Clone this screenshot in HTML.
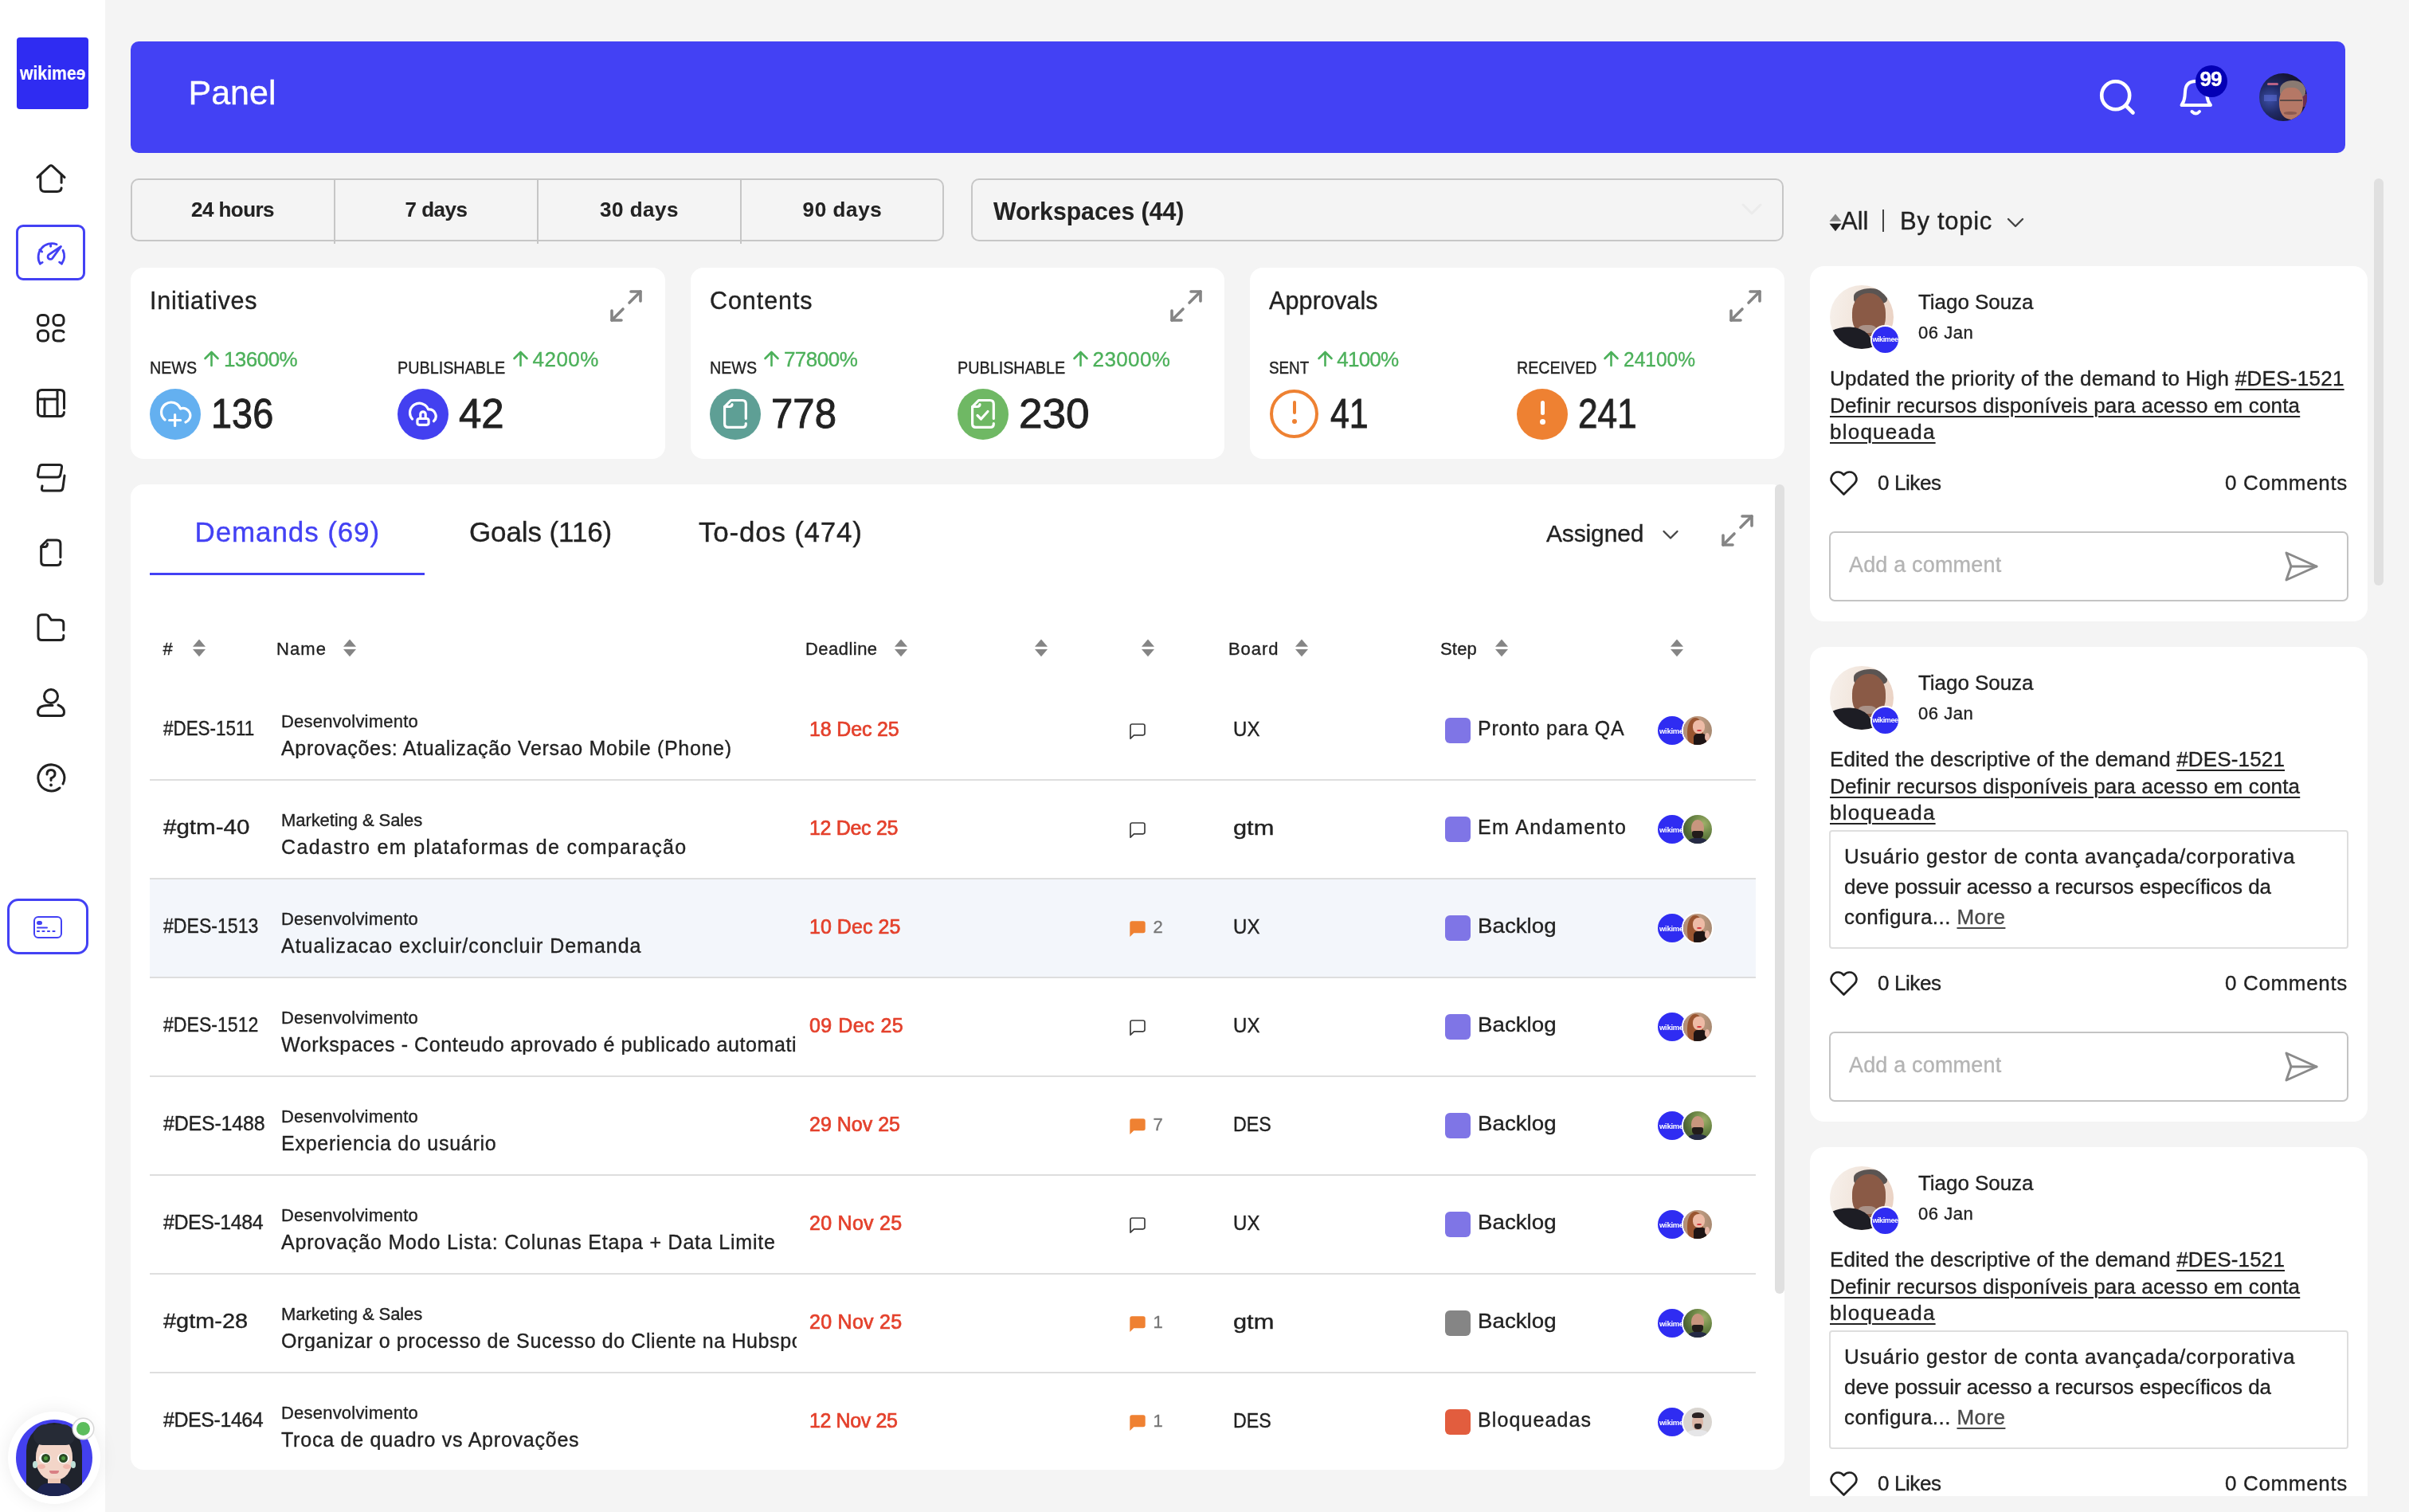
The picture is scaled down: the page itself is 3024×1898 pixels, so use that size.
<!DOCTYPE html>
<html><head><meta charset="utf-8"><title>Panel</title>
<style>
*{box-sizing:border-box;margin:0;padding:0}
html,body{width:3024px;height:1898px;overflow:hidden}
body{position:relative;background:#f4f4f4;font-family:"Liberation Sans",Arial,sans-serif;color:#222;-webkit-text-stroke:0.35px currentColor;will-change:transform}
div,span,svg{position:absolute}
div{white-space:nowrap}
.rel{position:relative}
.card{background:#fff;border-radius:16px}
.w{color:#fff}
.ul{text-decoration:underline;text-decoration-thickness:2px;text-underline-offset:4px}
svg{overflow:visible}
.av{border-radius:50%;overflow:hidden}
.wk{background:#2f2cf2;border-radius:50%;color:#fff;font-weight:700;text-align:center;overflow:hidden;-webkit-text-stroke:0}
@media (max-width:1600px){html{zoom:0.5}}
</style></head><body>

<div style="left:0;top:0;width:132px;height:1898px;background:#fff"></div>
<div style="left:21px;top:47px;width:90px;height:90px;background:#2f2cf2;border-radius:4px"></div>
<div class="w" style="left:24.5px;top:80px;font-size:24px;line-height:24px;font-weight:700;-webkit-text-stroke:0.2px;transform:scaleX(0.883);transform-origin:0 0">wikime<span style="position:relative;display:inline-block;transform:scaleX(-1)">e</span></div>
<svg style="left:46px;top:206px" width="36" height="36" viewBox="0 0 36 36" fill="none" stroke="#222" stroke-width="3" stroke-linecap="round" stroke-linejoin="round"><path d="M1,16.7 L16.3,2.4 Q18,1 19.7,2.4 L35,16.7"/><path d="M4.8,13.5 V29 Q4.8,34.4 10.2,34.4 H25.7 Q30.6,34.4 31.1,30"/><path d="M31.1,23.3 V13.5"/></svg>
<div style="left:20px;top:282px;width:87px;height:70px;border:3px solid #4341f4;border-radius:9px"></div>
<svg style="left:44px;top:300px" width="40" height="36" viewBox="0 0 40 36" fill="none" stroke="#4341f4" stroke-width="2.8" stroke-linecap="round" stroke-linejoin="round"><path d="M6.3,31.1 A17,17 0 0 1 27.1,6.8"/><path d="M6.3,31.1 L9.2,29.4"/><path d="M35,14.2 A17,17 0 0 1 33.5,31"/><path d="M33.5,31 L30.6,29.1"/><path d="M19.6,6.3 V9.3"/><path d="M5.8,13.7 L8.7,16"/><path d="M32.5,9.5 L21.7,24.3 A3.2,3.2 0 1 1 17.3,19.7 Z"/></svg>
<svg style="left:46px;top:394px" width="36" height="36" viewBox="0 0 36 36" fill="none" stroke="#222" stroke-width="3" stroke-linecap="round" stroke-linejoin="round"><rect x="1.5" y="1.5" width="13" height="13" rx="5"/><rect x="21" y="1.5" width="13" height="13" rx="5"/><rect x="1.5" y="21" width="13" height="13" rx="5"/><path d="M34,23 Q33,21 29,21 H26 Q21,21 21,26 V29 Q21,34 26,34 H29 Q33,34 34,32"/></svg>
<svg style="left:46px;top:488px" width="36" height="36" viewBox="0 0 36 36" fill="none" stroke="#222" stroke-width="3" stroke-linecap="round" stroke-linejoin="round"><path d="M34.5,24.5 V6.5 Q34.5,1.5 29.5,1.5 H6.5 Q1.5,1.5 1.5,6.5 V29.5 Q1.5,34.5 6.5,34.5 H29.5 Q34,34.5 34.5,29.5"/><path d="M1.5,13 H26"/><path d="M10,13 V34.5"/><path d="M26,1.5 V34.5"/></svg>
<svg style="left:46px;top:582px" width="36" height="36" viewBox="0 0 36 36" fill="none" stroke="#222" stroke-width="3" stroke-linecap="round" stroke-linejoin="round"><path d="M7,1.5 H29 Q32,1.5 31.5,5 L30,13 Q29.5,17 26,17 H4 Q1,17 1.5,14 L3,5 Q3.5,1.5 7,1.5 Z"/><path d="M35,15 L33,30 Q32.5,34 29,34 H9 Q6,34 6.5,31 L7,28"/></svg>
<svg style="left:48px;top:676px" width="32" height="36" viewBox="0 0 32 36" fill="none" stroke="#222" stroke-width="3" stroke-linecap="round" stroke-linejoin="round"><path d="M27.9,23.4 V6.5 Q27.9,2 23.4,2 H11.5 L3.7,9.8 V29 Q3.7,33.5 8.2,33.5 H23.4 Q27.9,33.5 27.9,29.5 V28.9"/><path d="M3.7,10.5 H8 Q11.5,10.5 11.5,6.5"/></svg>
<svg style="left:46px;top:770px" width="36" height="36" viewBox="0 0 36 36" fill="none" stroke="#222" stroke-width="3" stroke-linecap="round" stroke-linejoin="round"><path d="M33.8,21 V12.8 Q33.8,8.3 29.3,8.3 H18.5 L15,3.5 Q14,1.7 12,1.7 H6.5 Q2,1.7 2,6.2 V29 Q2,33.5 6.5,33.5 H29.3 Q33.8,33.5 33.8,29.5 V27.5"/></svg>
<svg style="left:46px;top:864px" width="36" height="36" viewBox="0 0 36 36" fill="none" stroke="#222" stroke-width="3" stroke-linecap="round" stroke-linejoin="round"><circle cx="18" cy="10" r="8.5"/><path d="M27,21 Q34.5,24 34.5,30 Q34.5,34.5 30,34.5 H6 Q1.5,34.5 1.5,30 Q1.5,21.5 14,21.5 H20"/></svg>
<svg style="left:46px;top:958px" width="36" height="36" viewBox="0 0 36 36" fill="none" stroke="#222" stroke-width="3" stroke-linecap="round" stroke-linejoin="round"><path d="M29,31 A16.5,16.5 0 1 1 33,26"/><path d="M13,14 Q13,8.5 18,8.5 Q23,8.5 23,13.5 Q23,17 18,19 V21.5"/><circle cx="18" cy="27.5" r="1.9" fill="#222" stroke="none"/></svg>
<div style="left:9px;top:1128px;width:102px;height:70px;border:3px solid #4341f4;border-radius:14px"></div>
<svg style="left:42px;top:1150px" width="36" height="28" viewBox="0 0 36 28" fill="none" stroke="#4341f4" stroke-width="2" stroke-linecap="round"><rect x="1" y="1" width="34" height="26" rx="5"/><rect x="5" y="7" width="5" height="3" rx="1.5" fill="#4341f4" stroke-width="2"/><path d="M5,14.5 H17"/><path d="M5,19 H7 M11.5,19 H13.5 M18,19 H20 M24.5,19 H26.5" stroke-width="2.2"/></svg>
<div style="left:10px;top:1772px;width:116px;height:116px;border-radius:50%;background:#fff;box-shadow:0 0 24px rgba(0,0,0,0.08)"></div>
<div class="av" style="left:20px;top:1782px;width:96px;height:96px;background:#4340ee">
<div style="left:13px;top:4px;width:70px;height:100px;border-radius:35px 35px 12px 12px;background:#1f232c"></div>
<div style="left:25px;top:20px;width:46px;height:56px;border-radius:48% 48% 46% 46%;background:#f3d5c8"></div>
<div style="left:22px;top:6px;width:27px;height:26px;border-radius:80% 20% 10% 60%;background:#262b36"></div>
<div style="left:47px;top:6px;width:27px;height:26px;border-radius:20% 80% 60% 10%;background:#262b36"></div>
<div style="left:29px;top:42px;width:15px;height:13px;border-radius:50%;background:#fff"></div>
<div style="left:52px;top:42px;width:15px;height:13px;border-radius:50%;background:#fff"></div>
<div style="left:32px;top:43px;width:11px;height:11px;border-radius:50%;background:#4e9a3e;border:3px solid #2c4a25"></div>
<div style="left:54px;top:43px;width:11px;height:11px;border-radius:50%;background:#4e9a3e;border:3px solid #2c4a25"></div>
<div style="left:27px;top:56px;width:10px;height:6px;border-radius:50%;background:#f0a8a0;opacity:.7"></div>
<div style="left:59px;top:56px;width:10px;height:6px;border-radius:50%;background:#f0a8a0;opacity:.7"></div>
<div style="left:42px;top:64px;width:12px;height:4px;border-radius:0 0 6px 6px;background:#d97f84"></div>
<div style="left:40px;top:74px;width:16px;height:10px;background:#eec7b6"></div>
<div style="left:26px;top:80px;width:44px;height:20px;background:#1d2450;border-radius:14px 14px 0 0"></div>
<div style="left:21px;top:52px;width:6px;height:9px;border-radius:50%;background:#bfe0d8"></div>
<div style="left:69px;top:52px;width:6px;height:9px;border-radius:50%;background:#bfe0d8"></div>
</div>
<div style="left:92px;top:1781px;width:25px;height:25px;border-radius:50%;background:#fff;box-shadow:0 0 0 1.5px #d8d8d8"></div>
<div style="left:96px;top:1785px;width:17px;height:17px;border-radius:50%;background:#5cbd5c"></div>
<div style="left:164px;top:52px;width:2780px;height:140px;background:#4341f4;border-radius:10px"></div>
<div style="left:236.5px;top:94.5px;font-size:43px;line-height:43px;color:#fff;letter-spacing:0.0px;">Panel</div>
<svg style="left:2630px;top:95px" width="56" height="56" viewBox="0 0 56 56" fill="none" stroke="#fff" stroke-width="4.6" stroke-linecap="round"><circle cx="25.7" cy="24.7" r="17.5"/><path d="M39.5,38.5 L47.5,46.5"/></svg>
<svg style="left:2730px;top:95px" width="56" height="56" viewBox="0 0 56 56" fill="none" stroke="#fff" stroke-width="4" stroke-linecap="round" stroke-linejoin="round"><path d="M8.5,37 H45 Q41,32 40.5,26 L40,20 Q39,7 26.5,7 Q13.5,7 13,20 L12.5,26 Q12,32 8.5,37 Z"/><path d="M21.5,45 Q26.5,50 31,45"/></svg>
<div style="left:2756px;top:82px;width:40px;height:40px;border-radius:50%;background:#0400b4"></div>
<div style="left:2761.5px;top:86.1px;font-size:26px;line-height:26px;color:#fff;font-weight:700;letter-spacing:-1px">99</div>
<div class="av" style="left:2836px;top:92px;width:60px;height:60px;background:radial-gradient(circle at 22% 55%,#3c4fa8 0,#202a66 30%,#151636 65%,#1b1430 100%)">
<div style="left:10px;top:12px;width:14px;height:3px;border-radius:2px;background:#e07090;opacity:.8"></div>
<div style="left:6px;top:27px;width:16px;height:8px;background:#5a6ad0;opacity:.6"></div>
<div style="left:50px;top:26px;width:10px;height:16px;background:#c04a6a;opacity:.5"></div>
<div style="left:26px;top:9px;width:32px;height:22px;border-radius:50% 50% 30% 30%;background:#8a7a72"></div>
<div style="left:25px;top:18px;width:30px;height:40px;border-radius:42% 42% 48% 48%;background:#b57866"></div>
<div style="left:26px;top:33px;width:28px;height:2px;background:#5d4a46"></div>
<div style="left:31px;top:48px;width:16px;height:4px;border-radius:40%;background:#8c5a50"></div>
</div>
<div style="left:164px;top:224px;width:1021px;height:79px;border:2px solid #c6c6c6;border-radius:10px"></div>
<div style="left:419px;top:224px;width:2px;height:82px;background:#c6c6c6"></div>
<div style="left:674px;top:224px;width:2px;height:82px;background:#c6c6c6"></div>
<div style="left:929px;top:224px;width:2px;height:82px;background:#c6c6c6"></div>
<div style="left:164px;width:256px;top:249.9px;font-size:26px;line-height:26px;font-weight:700;text-align:center;-webkit-text-stroke:0.1px;letter-spacing:-0.57px;">24 hours</div>
<div style="left:420px;width:255px;top:249.9px;font-size:26px;line-height:26px;font-weight:700;text-align:center;-webkit-text-stroke:0.1px;letter-spacing:-0.46px;">7 days</div>
<div style="left:675px;width:255px;top:249.9px;font-size:26px;line-height:26px;font-weight:700;text-align:center;-webkit-text-stroke:0.1px;letter-spacing:0.48px;">30 days</div>
<div style="left:930px;width:255px;top:249.9px;font-size:26px;line-height:26px;font-weight:700;text-align:center;-webkit-text-stroke:0.1px;letter-spacing:0.63px;">90 days</div>
<div style="left:1219px;top:224px;width:1020px;height:79px;border:2px solid #c6c6c6;border-radius:10px"></div>
<div style="left:1247.0px;top:249.3px;font-size:32px;line-height:32px;font-weight:700;-webkit-text-stroke:0.1px;transform:scaleX(0.943);transform-origin:0 0;">Workspaces (44)</div>
<svg style="left:2186px;top:254px" width="26" height="18" viewBox="0 0 26 18" fill="none" stroke="#ebebeb" stroke-width="3" stroke-linecap="round" stroke-linejoin="round"><path d="M2,3 L13,14 L24,3"/></svg>
<div class="card" style="left:164px;top:336px;width:671px;height:240px"></div>
<div style="left:188.0px;top:362.1px;font-size:30.5px;line-height:30.5px;letter-spacing:0.73px;">Initiatives</div>
<svg style="left:764px;top:362px" width="44" height="44" viewBox="0 0 44 44" fill="none" stroke="#858585" stroke-width="3.6" stroke-linecap="round" stroke-linejoin="round"><path d="M28,4 H40 V16"/><path d="M40,4 L26,18"/><path d="M4,28 V40 H16"/><path d="M4,40 L18,26"/></svg>
<div style="left:188.2px;top:450.6px;font-size:22px;line-height:22px;transform:scaleX(0.895);transform-origin:0 0;">NEWS</div>
<svg style="left:256.4px;top:440px" width="19" height="20" viewBox="0 0 19 20" fill="none" stroke="#4cb05a" stroke-width="2.6" stroke-linecap="round" stroke-linejoin="round"><path d="M9.5,19 V2 M1.5,10 L9.5,2 L17.5,10"/></svg>
<div style="left:280.9px;top:437.7px;font-size:26px;line-height:26px;color:#4cb05a;letter-spacing:-0.52px;">13600%</div>
<div style="left:188px;top:488px;width:64px;height:64px;border-radius:50%;background:#64b0f0"></div>
<svg style="left:188px;top:488px" width="64" height="64" viewBox="0 0 64 64" fill="none" stroke="#fff" stroke-width="3.2" stroke-linecap="round" stroke-linejoin="round"><path d="M19,39 A12.4,12.4 0 1 1 38.5,25 A9.1,9.1 0 0 1 45,42"/><path d="M31.6,32.5 V46.5 M24.6,39.5 H38.6"/></svg>
<div style="left:265.0px;top:494.4px;font-size:51px;line-height:51px;transform:scaleX(0.919);transform-origin:0 0;-webkit-text-stroke:0.9px #222;">136</div>
<div style="left:499.2px;top:450.6px;font-size:22px;line-height:22px;transform:scaleX(0.899);transform-origin:0 0;">PUBLISHABLE</div>
<svg style="left:644.1px;top:440px" width="19" height="20" viewBox="0 0 19 20" fill="none" stroke="#4cb05a" stroke-width="2.6" stroke-linecap="round" stroke-linejoin="round"><path d="M9.5,19 V2 M1.5,10 L9.5,2 L17.5,10"/></svg>
<div style="left:668.6px;top:437.7px;font-size:26px;line-height:26px;color:#4cb05a;letter-spacing:0.45px;">4200%</div>
<div style="left:499px;top:488px;width:64px;height:64px;border-radius:50%;background:#4340f0"></div>
<svg style="left:499px;top:488px" width="64" height="64" viewBox="0 0 64 64" fill="none" stroke="#fff" stroke-width="3.2" stroke-linecap="round" stroke-linejoin="round"><path d="M18.5,38 A11.9,11.9 0 1 1 38.6,26 A8.6,8.6 0 0 1 45.5,40.7"/><rect x="24.9" y="37.5" width="14.2" height="7.8" rx="2.5"/><path d="M28.8,37 V32 A3.2,3.2 0 0 1 35.2,32 V37"/></svg>
<div style="left:576.0px;top:494.4px;font-size:51px;line-height:51px;letter-spacing:-0.1px;-webkit-text-stroke:0.9px #222;">42</div>
<div class="card" style="left:867px;top:336px;width:670px;height:240px"></div>
<div style="left:891.0px;top:362.1px;font-size:30.5px;line-height:30.5px;letter-spacing:0.93px;">Contents</div>
<svg style="left:1467px;top:362px" width="44" height="44" viewBox="0 0 44 44" fill="none" stroke="#858585" stroke-width="3.6" stroke-linecap="round" stroke-linejoin="round"><path d="M28,4 H40 V16"/><path d="M40,4 L26,18"/><path d="M4,28 V40 H16"/><path d="M4,40 L18,26"/></svg>
<div style="left:891.2px;top:450.6px;font-size:22px;line-height:22px;transform:scaleX(0.895);transform-origin:0 0;">NEWS</div>
<svg style="left:959.4px;top:440px" width="19" height="20" viewBox="0 0 19 20" fill="none" stroke="#4cb05a" stroke-width="2.6" stroke-linecap="round" stroke-linejoin="round"><path d="M9.5,19 V2 M1.5,10 L9.5,2 L17.5,10"/></svg>
<div style="left:983.9px;top:437.7px;font-size:26px;line-height:26px;color:#4cb05a;letter-spacing:-0.5px;">77800%</div>
<div style="left:891px;top:488px;width:64px;height:64px;border-radius:50%;background:#5e9f95"></div>
<svg style="left:891px;top:488px" width="64" height="64" viewBox="0 0 64 64" fill="none" stroke="#fff" stroke-width="3.2" stroke-linecap="round" stroke-linejoin="round"><path d="M45.3,37.5 V19 Q45.3,14.5 40.8,14.5 H26.5 L18.6,22.5 V44 Q18.6,48.4 23,48.4 H40.8 Q45.3,48.4 45.3,44.5 V43.5"/><path d="M18.6,22.5 H24.5 Q28,22.5 28,19.5"/></svg>
<div style="left:968.0px;top:494.4px;font-size:51px;line-height:51px;transform:scaleX(0.963);transform-origin:0 0;-webkit-text-stroke:0.9px #222;">778</div>
<div style="left:1202.2px;top:450.6px;font-size:22px;line-height:22px;transform:scaleX(0.899);transform-origin:0 0;">PUBLISHABLE</div>
<svg style="left:1347.1px;top:440px" width="19" height="20" viewBox="0 0 19 20" fill="none" stroke="#4cb05a" stroke-width="2.6" stroke-linecap="round" stroke-linejoin="round"><path d="M9.5,19 V2 M1.5,10 L9.5,2 L17.5,10"/></svg>
<div style="left:1371.6px;top:437.7px;font-size:26px;line-height:26px;color:#4cb05a;letter-spacing:0.38px;">23000%</div>
<div style="left:1202px;top:488px;width:64px;height:64px;border-radius:50%;background:#6fb864"></div>
<svg style="left:1202px;top:488px" width="64" height="64" viewBox="0 0 64 64" fill="none" stroke="#fff" stroke-width="3.2" stroke-linecap="round" stroke-linejoin="round"><path d="M45.3,37.5 V19 Q45.3,14.5 40.8,14.5 H26.5 L18.6,22.5 V44 Q18.6,48.4 23,48.4 H40.8 Q45.3,48.4 45.3,44.5 V43.5"/><path d="M18.6,22.5 H24.5 Q28,22.5 28,19.5"/><path d="M25,33.5 L29.5,38 L38,28.5"/></svg>
<div style="left:1279.0px;top:494.4px;font-size:51px;line-height:51px;transform:scaleX(1.042);transform-origin:0 0;-webkit-text-stroke:0.9px #222;">230</div>
<div class="card" style="left:1569px;top:336px;width:671px;height:240px"></div>
<div style="left:1593.0px;top:362.1px;font-size:30.5px;line-height:30.5px;letter-spacing:0.12px;">Approvals</div>
<svg style="left:2169px;top:362px" width="44" height="44" viewBox="0 0 44 44" fill="none" stroke="#858585" stroke-width="3.6" stroke-linecap="round" stroke-linejoin="round"><path d="M28,4 H40 V16"/><path d="M40,4 L26,18"/><path d="M4,28 V40 H16"/><path d="M4,40 L18,26"/></svg>
<div style="left:1593.2px;top:450.6px;font-size:22px;line-height:22px;transform:scaleX(0.856);transform-origin:0 0;">SENT</div>
<svg style="left:1653.8px;top:440px" width="19" height="20" viewBox="0 0 19 20" fill="none" stroke="#4cb05a" stroke-width="2.6" stroke-linecap="round" stroke-linejoin="round"><path d="M9.5,19 V2 M1.5,10 L9.5,2 L17.5,10"/></svg>
<div style="left:1678.3px;top:437.7px;font-size:26px;line-height:26px;color:#4cb05a;letter-spacing:-0.77px;">4100%</div>
<div style="left:1594px;top:489px;width:61px;height:61px;border-radius:50%;border:4px solid #ee8132"></div>
<div style="left:1623px;top:503px;width:4px;height:17px;border-radius:2px;background:#ee8132"></div>
<div style="left:1622px;top:526px;width:6px;height:6px;border-radius:50%;background:#ee8132"></div>
<div style="left:1670.0px;top:494.4px;font-size:51px;line-height:51px;transform:scaleX(0.840);transform-origin:0 0;-webkit-text-stroke:0.9px #222;">41</div>
<div style="left:1904.2px;top:450.6px;font-size:22px;line-height:22px;transform:scaleX(0.894);transform-origin:0 0;">RECEIVED</div>
<svg style="left:2013.4px;top:440px" width="19" height="20" viewBox="0 0 19 20" fill="none" stroke="#4cb05a" stroke-width="2.6" stroke-linecap="round" stroke-linejoin="round"><path d="M9.5,19 V2 M1.5,10 L9.5,2 L17.5,10"/></svg>
<div style="left:2037.9px;top:437.7px;font-size:26px;line-height:26px;color:#4cb05a;transform:scaleX(0.943);transform-origin:0 0;">24100%</div>
<div style="left:1904px;top:488px;width:64px;height:64px;border-radius:50%;background:#ee8132"></div>
<div style="left:1934px;top:503px;width:5px;height:18px;border-radius:2.5px;background:#fff"></div>
<div style="left:1933px;top:526px;width:7px;height:7px;border-radius:50%;background:#fff"></div>
<div style="left:1981.0px;top:494.4px;font-size:51px;line-height:51px;transform:scaleX(0.865);transform-origin:0 0;-webkit-text-stroke:0.9px #222;">241</div>
<div class="card" style="left:164px;top:608px;width:2076px;height:1237px;overflow:hidden" id="mp">
</div>
<div style="left:244.5px;top:650.2px;font-size:35px;line-height:35px;color:#4341f4;letter-spacing:0.89px;">Demands (69)</div>
<div style="left:589.0px;top:650.2px;font-size:35px;line-height:35px;letter-spacing:-0.1px;">Goals (116)</div>
<div style="left:877.0px;top:650.2px;font-size:35px;line-height:35px;letter-spacing:0.77px;">To-dos (474)</div>
<div style="left:188px;top:719px;width:345px;height:3px;background:#4341f4"></div>
<div style="left:1941.0px;top:654.5px;font-size:30px;line-height:30px;letter-spacing:-0.14px;">Assigned</div>
<svg style="left:2085px;top:663px" width="24" height="16" viewBox="0 0 24 16" fill="none" stroke="#444" stroke-width="2.3" stroke-linecap="round" stroke-linejoin="round"><path d="M3.5,4 L12,12.5 L20.5,4"/></svg>
<svg style="left:2159px;top:644px" width="44" height="44" viewBox="0 0 44 44" fill="none" stroke="#858585" stroke-width="3.6" stroke-linecap="round" stroke-linejoin="round"><path d="M28,4 H40 V16"/><path d="M40,4 L26,18"/><path d="M4,28 V40 H16"/><path d="M4,40 L18,26"/></svg>
<div style="left:204.5px;top:804.3px;font-size:22px;line-height:22px;letter-spacing:0px;">#</div>
<svg style="left:242px;top:802px" width="16" height="22" viewBox="0 0 16 22"><path d="M8,0.5 L16,9.8 H0 Z" fill="#858585"/><path d="M0,13 H16 L8,22.2 Z" fill="#858585"/></svg>
<div style="left:347.0px;top:804.3px;font-size:22px;line-height:22px;letter-spacing:1.1px;">Name</div>
<svg style="left:431px;top:802px" width="16" height="22" viewBox="0 0 16 22"><path d="M8,0.5 L16,9.8 H0 Z" fill="#858585"/><path d="M0,13 H16 L8,22.2 Z" fill="#858585"/></svg>
<div style="left:1011.0px;top:804.3px;font-size:22px;line-height:22px;letter-spacing:0.46px;">Deadline</div>
<svg style="left:1123px;top:802px" width="16" height="22" viewBox="0 0 16 22"><path d="M8,0.5 L16,9.8 H0 Z" fill="#858585"/><path d="M0,13 H16 L8,22.2 Z" fill="#858585"/></svg>
<svg style="left:1299px;top:802px" width="16" height="22" viewBox="0 0 16 22"><path d="M8,0.5 L16,9.8 H0 Z" fill="#858585"/><path d="M0,13 H16 L8,22.2 Z" fill="#858585"/></svg>
<svg style="left:1433px;top:802px" width="16" height="22" viewBox="0 0 16 22"><path d="M8,0.5 L16,9.8 H0 Z" fill="#858585"/><path d="M0,13 H16 L8,22.2 Z" fill="#858585"/></svg>
<div style="left:1542.0px;top:804.3px;font-size:22px;line-height:22px;letter-spacing:0.95px;">Board</div>
<svg style="left:1626px;top:802px" width="16" height="22" viewBox="0 0 16 22"><path d="M8,0.5 L16,9.8 H0 Z" fill="#858585"/><path d="M0,13 H16 L8,22.2 Z" fill="#858585"/></svg>
<div style="left:1808.0px;top:804.3px;font-size:22px;line-height:22px;letter-spacing:0.2px;">Step</div>
<svg style="left:1877px;top:802px" width="16" height="22" viewBox="0 0 16 22"><path d="M8,0.5 L16,9.8 H0 Z" fill="#858585"/><path d="M0,13 H16 L8,22.2 Z" fill="#858585"/></svg>
<svg style="left:2097px;top:802px" width="16" height="22" viewBox="0 0 16 22"><path d="M8,0.5 L16,9.8 H0 Z" fill="#858585"/><path d="M0,13 H16 L8,22.2 Z" fill="#858585"/></svg>
<div style="left:188px;top:978px;width:2016px;height:2px;background:#dedede"></div>
<div style="left:205.0px;top:901.8px;font-size:25px;line-height:25px;transform:scaleX(0.897);transform-origin:0 0;">#DES-1511</div>
<div style="left:353.0px;top:894.6px;font-size:22px;line-height:22px;letter-spacing:0.21px;">Desenvolvimento</div>
<div style="left:353px;top:926.8px;width:647px;overflow:hidden;font-size:25px;line-height:25px;letter-spacing:0.68px;">Aprovações: Atualização Versao Mobile (Phone)</div>
<div style="left:1016.0px;top:902.8px;font-size:25px;line-height:25px;color:#e4412c;-webkit-text-stroke:0.7px #e4412c;letter-spacing:-0.15px;">18 Dec 25</div>
<svg style="left:1418px;top:908px" width="20" height="20" viewBox="0 0 20 20" fill="none" stroke="#3c3c3c" stroke-width="1.7" stroke-linejoin="round"><path d="M1,19.2 V3.2 Q1,1 3.2,1 H16.8 Q19,1 19,3.2 V12.6 Q19,14.8 16.8,14.8 H5.5 Z"/></svg>
<div style="left:1548.0px;top:902.8px;font-size:25px;line-height:25px;transform:scaleX(0.963);transform-origin:0 0;">UX</div>
<div style="left:1814px;top:901px;width:32px;height:32px;border-radius:6px;background:#7f75e6"></div>
<div style="left:1855.0px;top:901.8px;font-size:25px;line-height:25px;letter-spacing:0.77px;">Pronto para QA</div>
<div class="wk" style="left:2081px;top:899px;width:36px;height:36px;font-size:9.5px;line-height:37px;letter-spacing:-0.3px;text-align:left;padding-left:2px">wikime</div>
<div class="av" style="left:2113px;top:899px;width:36px;height:36px;background:linear-gradient(90deg,#b48f75 0,#bd9a80 60%,#a88a72 100%);box-shadow:0 0 0 2px #fff"><div style="left:5.0px;top:2.0px;width:20.0px;height:36.0px;background:#9a5530;border-radius:50% 50% 40% 40%;"></div><div style="left:12.0px;top:5.0px;width:15.0px;height:17.0px;background:#eebba6;border-radius:45%;"></div><div style="left:16.5px;top:16.5px;width:6.0px;height:2.5px;background:#d4343a;border-radius:50%;"></div><div style="left:13.0px;top:21.5px;width:16.0px;height:16.0px;background:#1e1414;border-radius:30% 30% 0 0;"></div><div style="left:27.0px;top:21.0px;width:6.0px;height:10.0px;background:#e8b8a8;border-radius:50%;"></div></div>
<div style="left:188px;top:1102px;width:2016px;height:2px;background:#dedede"></div>
<div style="left:205.0px;top:1025.8px;font-size:25px;line-height:25px;transform:scaleX(1.182);transform-origin:0 0;">#gtm-40</div>
<div style="left:353.0px;top:1018.6px;font-size:22px;line-height:22px;letter-spacing:-0.08px;">Marketing &amp; Sales</div>
<div style="left:353px;top:1050.8px;width:647px;overflow:hidden;font-size:25px;line-height:25px;letter-spacing:1.34px;">Cadastro em plataformas de comparação</div>
<div style="left:1016.0px;top:1026.8px;font-size:25px;line-height:25px;color:#e4412c;-webkit-text-stroke:0.7px #e4412c;letter-spacing:-0.32px;">12 Dec 25</div>
<svg style="left:1418px;top:1032px" width="20" height="20" viewBox="0 0 20 20" fill="none" stroke="#3c3c3c" stroke-width="1.7" stroke-linejoin="round"><path d="M1,19.2 V3.2 Q1,1 3.2,1 H16.8 Q19,1 19,3.2 V12.6 Q19,14.8 16.8,14.8 H5.5 Z"/></svg>
<div style="left:1548.0px;top:1026.8px;font-size:25px;line-height:25px;transform:scaleX(1.231);transform-origin:0 0;">gtm</div>
<div style="left:1814px;top:1025px;width:32px;height:32px;border-radius:6px;background:#7f75e6"></div>
<div style="left:1855.0px;top:1025.8px;font-size:25px;line-height:25px;letter-spacing:1.36px;">Em Andamento</div>
<div class="wk" style="left:2081px;top:1023px;width:36px;height:36px;font-size:9.5px;line-height:37px;letter-spacing:-0.3px;text-align:left;padding-left:2px">wikime</div>
<div class="av" style="left:2113px;top:1023px;width:36px;height:36px;background:radial-gradient(circle at 70% 30%,#9fb06a 0,#6f8a48 35%,#4d6332 70%,#5e7a3c 100%);box-shadow:0 0 0 2px #fff"><div style="left:10.0px;top:6.0px;width:16.0px;height:21.0px;background:#c8967e;border-radius:48% 48% 45% 45%;"></div><div style="left:11.0px;top:19.5px;width:14.0px;height:10.5px;background:#221c1a;border-radius:20% 20% 50% 50%;"></div><div style="left:6.0px;top:29.0px;width:24.0px;height:10.0px;background:#252a45;border-radius:40% 40% 0 0;"></div></div>
<div style="left:188px;top:1104px;width:2016px;height:123px;background:#f3f6fb"></div>
<div style="left:188px;top:1226px;width:2016px;height:2px;background:#dedede"></div>
<div style="left:205.0px;top:1149.8px;font-size:25px;line-height:25px;transform:scaleX(0.923);transform-origin:0 0;">#DES-1513</div>
<div style="left:353.0px;top:1142.6px;font-size:22px;line-height:22px;letter-spacing:0.21px;">Desenvolvimento</div>
<div style="left:353px;top:1174.8px;width:647px;overflow:hidden;font-size:25px;line-height:25px;letter-spacing:0.99px;">Atualizacao excluir/concluir Demanda</div>
<div style="left:1016.0px;top:1150.8px;font-size:25px;line-height:25px;color:#e4412c;-webkit-text-stroke:0.7px #e4412c;letter-spacing:0.04px;">10 Dec 25</div>
<svg style="left:1418px;top:1156px" width="20" height="20" viewBox="0 0 20 20"><path d="M0.3,3 Q0.3,0.3 3,0.3 H17 Q19.7,0.3 19.7,3 V12.5 Q19.7,15.2 17,15.2 H5.2 L0.3,20 Z" fill="#ef8132"/></svg>
<div style="left:1447.5px;top:1153.3px;font-size:22px;line-height:22px;color:#777">2</div>
<div style="left:1548.0px;top:1150.8px;font-size:25px;line-height:25px;transform:scaleX(0.963);transform-origin:0 0;">UX</div>
<div style="left:1814px;top:1149px;width:32px;height:32px;border-radius:6px;background:#7f75e6"></div>
<div style="left:1855.0px;top:1149.8px;font-size:25px;line-height:25px;transform:scaleX(1.108);transform-origin:0 0;">Backlog</div>
<div class="wk" style="left:2081px;top:1147px;width:36px;height:36px;font-size:9.5px;line-height:37px;letter-spacing:-0.3px;text-align:left;padding-left:2px">wikime</div>
<div class="av" style="left:2113px;top:1147px;width:36px;height:36px;background:linear-gradient(90deg,#b48f75 0,#bd9a80 60%,#a88a72 100%);box-shadow:0 0 0 2px #fff"><div style="left:5.0px;top:2.0px;width:20.0px;height:36.0px;background:#9a5530;border-radius:50% 50% 40% 40%;"></div><div style="left:12.0px;top:5.0px;width:15.0px;height:17.0px;background:#eebba6;border-radius:45%;"></div><div style="left:16.5px;top:16.5px;width:6.0px;height:2.5px;background:#d4343a;border-radius:50%;"></div><div style="left:13.0px;top:21.5px;width:16.0px;height:16.0px;background:#1e1414;border-radius:30% 30% 0 0;"></div><div style="left:27.0px;top:21.0px;width:6.0px;height:10.0px;background:#e8b8a8;border-radius:50%;"></div></div>
<div style="left:188px;top:1350px;width:2016px;height:2px;background:#dedede"></div>
<div style="left:205.0px;top:1273.8px;font-size:25px;line-height:25px;transform:scaleX(0.923);transform-origin:0 0;">#DES-1512</div>
<div style="left:353.0px;top:1266.6px;font-size:22px;line-height:22px;letter-spacing:0.21px;">Desenvolvimento</div>
<div style="left:353px;top:1298.8px;width:647px;overflow:hidden;font-size:25px;line-height:25px;letter-spacing:0.6px;">Workspaces - Conteudo aprovado é publicado automaticamente</div>
<div style="left:1016.0px;top:1274.8px;font-size:25px;line-height:25px;color:#e4412c;-webkit-text-stroke:0.7px #e4412c;letter-spacing:0.46px;">09 Dec 25</div>
<svg style="left:1418px;top:1280px" width="20" height="20" viewBox="0 0 20 20" fill="none" stroke="#3c3c3c" stroke-width="1.7" stroke-linejoin="round"><path d="M1,19.2 V3.2 Q1,1 3.2,1 H16.8 Q19,1 19,3.2 V12.6 Q19,14.8 16.8,14.8 H5.5 Z"/></svg>
<div style="left:1548.0px;top:1274.8px;font-size:25px;line-height:25px;transform:scaleX(0.963);transform-origin:0 0;">UX</div>
<div style="left:1814px;top:1273px;width:32px;height:32px;border-radius:6px;background:#7f75e6"></div>
<div style="left:1855.0px;top:1273.8px;font-size:25px;line-height:25px;transform:scaleX(1.108);transform-origin:0 0;">Backlog</div>
<div class="wk" style="left:2081px;top:1271px;width:36px;height:36px;font-size:9.5px;line-height:37px;letter-spacing:-0.3px;text-align:left;padding-left:2px">wikime</div>
<div class="av" style="left:2113px;top:1271px;width:36px;height:36px;background:linear-gradient(90deg,#b48f75 0,#bd9a80 60%,#a88a72 100%);box-shadow:0 0 0 2px #fff"><div style="left:5.0px;top:2.0px;width:20.0px;height:36.0px;background:#9a5530;border-radius:50% 50% 40% 40%;"></div><div style="left:12.0px;top:5.0px;width:15.0px;height:17.0px;background:#eebba6;border-radius:45%;"></div><div style="left:16.5px;top:16.5px;width:6.0px;height:2.5px;background:#d4343a;border-radius:50%;"></div><div style="left:13.0px;top:21.5px;width:16.0px;height:16.0px;background:#1e1414;border-radius:30% 30% 0 0;"></div><div style="left:27.0px;top:21.0px;width:6.0px;height:10.0px;background:#e8b8a8;border-radius:50%;"></div></div>
<div style="left:188px;top:1474px;width:2016px;height:2px;background:#dedede"></div>
<div style="left:205.0px;top:1397.8px;font-size:25px;line-height:25px;letter-spacing:-0.21px;">#DES-1488</div>
<div style="left:353.0px;top:1390.6px;font-size:22px;line-height:22px;letter-spacing:0.21px;">Desenvolvimento</div>
<div style="left:353px;top:1422.8px;width:647px;overflow:hidden;font-size:25px;line-height:25px;letter-spacing:0.73px;">Experiencia do usuário</div>
<div style="left:1016.0px;top:1398.8px;font-size:25px;line-height:25px;color:#e4412c;-webkit-text-stroke:0.7px #e4412c;letter-spacing:0.0px;">29 Nov 25</div>
<svg style="left:1418px;top:1404px" width="20" height="20" viewBox="0 0 20 20"><path d="M0.3,3 Q0.3,0.3 3,0.3 H17 Q19.7,0.3 19.7,3 V12.5 Q19.7,15.2 17,15.2 H5.2 L0.3,20 Z" fill="#ef8132"/></svg>
<div style="left:1447.5px;top:1401.3px;font-size:22px;line-height:22px;color:#777">7</div>
<div style="left:1548.0px;top:1398.8px;font-size:25px;line-height:25px;transform:scaleX(0.929);transform-origin:0 0;">DES</div>
<div style="left:1814px;top:1397px;width:32px;height:32px;border-radius:6px;background:#7f75e6"></div>
<div style="left:1855.0px;top:1397.8px;font-size:25px;line-height:25px;transform:scaleX(1.108);transform-origin:0 0;">Backlog</div>
<div class="wk" style="left:2081px;top:1395px;width:36px;height:36px;font-size:9.5px;line-height:37px;letter-spacing:-0.3px;text-align:left;padding-left:2px">wikime</div>
<div class="av" style="left:2113px;top:1395px;width:36px;height:36px;background:radial-gradient(circle at 70% 30%,#9fb06a 0,#6f8a48 35%,#4d6332 70%,#5e7a3c 100%);box-shadow:0 0 0 2px #fff"><div style="left:10.0px;top:6.0px;width:16.0px;height:21.0px;background:#c8967e;border-radius:48% 48% 45% 45%;"></div><div style="left:11.0px;top:19.5px;width:14.0px;height:10.5px;background:#221c1a;border-radius:20% 20% 50% 50%;"></div><div style="left:6.0px;top:29.0px;width:24.0px;height:10.0px;background:#252a45;border-radius:40% 40% 0 0;"></div></div>
<div style="left:188px;top:1598px;width:2016px;height:2px;background:#dedede"></div>
<div style="left:205.0px;top:1521.8px;font-size:25px;line-height:25px;letter-spacing:-0.46px;">#DES-1484</div>
<div style="left:353.0px;top:1514.6px;font-size:22px;line-height:22px;letter-spacing:0.21px;">Desenvolvimento</div>
<div style="left:353px;top:1546.8px;width:647px;overflow:hidden;font-size:25px;line-height:25px;letter-spacing:0.8px;">Aprovação Modo Lista: Colunas Etapa + Data Limite</div>
<div style="left:1016.0px;top:1522.8px;font-size:25px;line-height:25px;color:#e4412c;-webkit-text-stroke:0.7px #e4412c;letter-spacing:0.28px;">20 Nov 25</div>
<svg style="left:1418px;top:1528px" width="20" height="20" viewBox="0 0 20 20" fill="none" stroke="#3c3c3c" stroke-width="1.7" stroke-linejoin="round"><path d="M1,19.2 V3.2 Q1,1 3.2,1 H16.8 Q19,1 19,3.2 V12.6 Q19,14.8 16.8,14.8 H5.5 Z"/></svg>
<div style="left:1548.0px;top:1522.8px;font-size:25px;line-height:25px;transform:scaleX(0.963);transform-origin:0 0;">UX</div>
<div style="left:1814px;top:1521px;width:32px;height:32px;border-radius:6px;background:#7f75e6"></div>
<div style="left:1855.0px;top:1521.8px;font-size:25px;line-height:25px;transform:scaleX(1.108);transform-origin:0 0;">Backlog</div>
<div class="wk" style="left:2081px;top:1519px;width:36px;height:36px;font-size:9.5px;line-height:37px;letter-spacing:-0.3px;text-align:left;padding-left:2px">wikime</div>
<div class="av" style="left:2113px;top:1519px;width:36px;height:36px;background:linear-gradient(90deg,#b48f75 0,#bd9a80 60%,#a88a72 100%);box-shadow:0 0 0 2px #fff"><div style="left:5.0px;top:2.0px;width:20.0px;height:36.0px;background:#9a5530;border-radius:50% 50% 40% 40%;"></div><div style="left:12.0px;top:5.0px;width:15.0px;height:17.0px;background:#eebba6;border-radius:45%;"></div><div style="left:16.5px;top:16.5px;width:6.0px;height:2.5px;background:#d4343a;border-radius:50%;"></div><div style="left:13.0px;top:21.5px;width:16.0px;height:16.0px;background:#1e1414;border-radius:30% 30% 0 0;"></div><div style="left:27.0px;top:21.0px;width:6.0px;height:10.0px;background:#e8b8a8;border-radius:50%;"></div></div>
<div style="left:188px;top:1722px;width:2016px;height:2px;background:#dedede"></div>
<div style="left:205.0px;top:1645.8px;font-size:25px;line-height:25px;transform:scaleX(1.157);transform-origin:0 0;">#gtm-28</div>
<div style="left:353.0px;top:1638.6px;font-size:22px;line-height:22px;letter-spacing:-0.08px;">Marketing &amp; Sales</div>
<div style="left:353px;top:1670.8px;width:647px;overflow:hidden;font-size:25px;line-height:25px;letter-spacing:0.6px;">Organizar o processo de Sucesso do Cliente na Hubspot</div>
<div style="left:1016.0px;top:1646.8px;font-size:25px;line-height:25px;color:#e4412c;-webkit-text-stroke:0.7px #e4412c;letter-spacing:0.28px;">20 Nov 25</div>
<svg style="left:1418px;top:1652px" width="20" height="20" viewBox="0 0 20 20"><path d="M0.3,3 Q0.3,0.3 3,0.3 H17 Q19.7,0.3 19.7,3 V12.5 Q19.7,15.2 17,15.2 H5.2 L0.3,20 Z" fill="#ef8132"/></svg>
<div style="left:1447.5px;top:1649.3px;font-size:22px;line-height:22px;color:#777">1</div>
<div style="left:1548.0px;top:1646.8px;font-size:25px;line-height:25px;transform:scaleX(1.231);transform-origin:0 0;">gtm</div>
<div style="left:1814px;top:1645px;width:32px;height:32px;border-radius:6px;background:#858585"></div>
<div style="left:1855.0px;top:1645.8px;font-size:25px;line-height:25px;transform:scaleX(1.108);transform-origin:0 0;">Backlog</div>
<div class="wk" style="left:2081px;top:1643px;width:36px;height:36px;font-size:9.5px;line-height:37px;letter-spacing:-0.3px;text-align:left;padding-left:2px">wikime</div>
<div class="av" style="left:2113px;top:1643px;width:36px;height:36px;background:radial-gradient(circle at 70% 30%,#9fb06a 0,#6f8a48 35%,#4d6332 70%,#5e7a3c 100%);box-shadow:0 0 0 2px #fff"><div style="left:10.0px;top:6.0px;width:16.0px;height:21.0px;background:#c8967e;border-radius:48% 48% 45% 45%;"></div><div style="left:11.0px;top:19.5px;width:14.0px;height:10.5px;background:#221c1a;border-radius:20% 20% 50% 50%;"></div><div style="left:6.0px;top:29.0px;width:24.0px;height:10.0px;background:#252a45;border-radius:40% 40% 0 0;"></div></div>
<div style="left:205.0px;top:1769.8px;font-size:25px;line-height:25px;letter-spacing:-0.44px;">#DES-1464</div>
<div style="left:353.0px;top:1762.6px;font-size:22px;line-height:22px;letter-spacing:0.21px;">Desenvolvimento</div>
<div style="left:353px;top:1794.8px;width:647px;overflow:hidden;font-size:25px;line-height:25px;letter-spacing:0.77px;">Troca de quadro vs Aprovações</div>
<div style="left:1016.0px;top:1770.8px;font-size:25px;line-height:25px;color:#e4412c;-webkit-text-stroke:0.7px #e4412c;letter-spacing:-0.38px;">12 Nov 25</div>
<svg style="left:1418px;top:1776px" width="20" height="20" viewBox="0 0 20 20"><path d="M0.3,3 Q0.3,0.3 3,0.3 H17 Q19.7,0.3 19.7,3 V12.5 Q19.7,15.2 17,15.2 H5.2 L0.3,20 Z" fill="#ef8132"/></svg>
<div style="left:1447.5px;top:1773.3px;font-size:22px;line-height:22px;color:#777">1</div>
<div style="left:1548.0px;top:1770.8px;font-size:25px;line-height:25px;transform:scaleX(0.929);transform-origin:0 0;">DES</div>
<div style="left:1814px;top:1769px;width:32px;height:32px;border-radius:6px;background:#e25d3e"></div>
<div style="left:1855.0px;top:1769.8px;font-size:25px;line-height:25px;letter-spacing:1.11px;">Bloqueadas</div>
<div class="wk" style="left:2081px;top:1767px;width:36px;height:36px;font-size:9.5px;line-height:37px;letter-spacing:-0.3px;text-align:left;padding-left:2px">wikime</div>
<div class="av" style="left:2113px;top:1767px;width:36px;height:36px;background:#d9d5d0;box-shadow:0 0 0 2px #fff"><div style="left:11.0px;top:9.0px;width:14.0px;height:19.0px;background:#dab4a4;border-radius:45%;"></div><div style="left:10.5px;top:6.0px;width:15.0px;height:7.0px;background:#2a2222;border-radius:50% 50% 20% 20%;"></div><div style="left:13.5px;top:20.0px;width:9.0px;height:7.0px;background:#2a2222;border-radius:30% 30% 50% 50%;"></div><div style="left:5.0px;top:28.0px;width:26.0px;height:10.0px;background:#e6e6e8;border-radius:40% 40% 0 0;"></div></div>
<div style="left:2228px;top:608px;width:12px;height:1016px;border-radius:6px;background:#e0e0e0"></div>
<svg style="left:2296px;top:268px" width="16" height="23" viewBox="0 0 16 23"><path d="M8,0.5 L15.5,9.8 H0.5 Z" fill="#888"/><path d="M0.5,12.8 H15.5 L8,22.3 Z" fill="#222"/></svg>
<div style="left:2311.0px;top:262.1px;font-size:31px;line-height:31px;letter-spacing:0.0px;">All</div>
<div style="left:2363px;top:263px;width:2px;height:28px;background:#444"></div>
<div style="left:2385.0px;top:262.1px;font-size:31px;line-height:31px;letter-spacing:0.71px;">By topic</div>
<svg style="left:2518px;top:271px" width="24" height="18" viewBox="0 0 24 18" fill="none" stroke="#444" stroke-width="2.4" stroke-linecap="round" stroke-linejoin="round"><path d="M3,4 L12,13 L21,4"/></svg>
<div style="left:2980px;top:224px;width:12px;height:511px;border-radius:6px;background:#e0e0e0"></div>
<div style="left:2240px;top:224px;width:760px;height:1654px;overflow:hidden">
<div class="card" style="left:32px;top:110px;width:700px;height:446px;border-radius:18px"></div><div class="av" style="left:57px;top:134px;width:80px;height:80px;background:linear-gradient(100deg,#f7f1ec 0,#f1e4da 50%,#e9cfc0 100%)"><div style="left:30px;top:4px;width:42px;height:20px;border-radius:50% 50% 30% 30%;background:#5a5452"></div><div style="left:28px;top:10px;width:42px;height:54px;border-radius:46% 46% 44% 44%;background:#8a5a46"></div><div style="left:36px;top:50px;width:22px;height:10px;border-radius:40%;background:#b8aaa4;opacity:.7"></div><div style="left:-8px;top:52px;width:60px;height:40px;border-radius:40% 60% 0 0;background:#1d1d24;transform:rotate(-12deg)"></div></div><div class="wk" style="left:108px;top:184px;width:37px;height:37px;border:2px solid #fff;font-size:9px;line-height:33px;letter-spacing:-0.4px">wikimee</div><div style="left:168.0px;top:141.9px;font-size:26px;line-height:26px;letter-spacing:-0.05px;">Tiago Souza</div><div style="left:168.0px;top:183.3px;font-size:22px;line-height:22px;letter-spacing:0.54px;">06 Jan</div><div style="left:57.0px;top:238.4px;font-size:26px;line-height:26px;letter-spacing:0.27px;">Updated the priority of the demand to High <span class="rel ul">#DES-1521</span></div><div style="left:57.0px;top:271.9px;font-size:26px;line-height:26px;letter-spacing:0.16px;"><span class="rel ul">Definir recursos disponíveis para acesso em conta</span></div><div style="left:57.0px;top:305.4px;font-size:26px;line-height:26px;letter-spacing:1.24px;"><span class="rel ul">bloqueada</span></div><svg style="left:57px;top:367px" width="35" height="31" viewBox="0 0 35 31" fill="none" stroke="#222" stroke-width="2.7" stroke-linejoin="round"><path d="M17.5,29.5 L4,16 Q0,11.5 2.5,6.5 Q5,1.5 10.5,1.5 Q14.5,1.5 17.5,5 Q20.5,1.5 24.5,1.5 Q30,1.5 32.5,6.5 Q35,11.5 31,16 Z"/></svg><div style="left:117.0px;top:368.9px;font-size:26px;line-height:26px;letter-spacing:-0.4px;">0 Likes</div><div style="right:53px;top:368.9px;font-size:26px;line-height:26px;letter-spacing:0.67px;">0 Comments</div><div style="left:56px;top:443px;width:652px;height:88px;border:2px solid #c4c4c4;border-radius:7px;background:#fff"></div><div style="left:81.0px;top:471.8px;font-size:27px;line-height:27px;color:#b4b4b4;letter-spacing:0.17px;">Add a comment</div><svg style="left:628px;top:468px" width="42" height="38" viewBox="0 0 42 38" fill="none" stroke="#8a8a8a" stroke-width="3" stroke-linejoin="round" stroke-linecap="round"><path d="M2,2 L40,19 L2,36 L8,19 Z"/><path d="M8,19 H40"/></svg>
<div class="card" style="left:32px;top:588px;width:700px;height:596px;border-radius:18px"></div><div class="av" style="left:57px;top:612px;width:80px;height:80px;background:linear-gradient(100deg,#f7f1ec 0,#f1e4da 50%,#e9cfc0 100%)"><div style="left:30px;top:4px;width:42px;height:20px;border-radius:50% 50% 30% 30%;background:#5a5452"></div><div style="left:28px;top:10px;width:42px;height:54px;border-radius:46% 46% 44% 44%;background:#8a5a46"></div><div style="left:36px;top:50px;width:22px;height:10px;border-radius:40%;background:#b8aaa4;opacity:.7"></div><div style="left:-8px;top:52px;width:60px;height:40px;border-radius:40% 60% 0 0;background:#1d1d24;transform:rotate(-12deg)"></div></div><div class="wk" style="left:108px;top:662px;width:37px;height:37px;border:2px solid #fff;font-size:9px;line-height:33px;letter-spacing:-0.4px">wikimee</div><div style="left:168.0px;top:619.9px;font-size:26px;line-height:26px;letter-spacing:-0.05px;">Tiago Souza</div><div style="left:168.0px;top:661.3px;font-size:22px;line-height:22px;letter-spacing:0.54px;">06 Jan</div><div style="left:57.0px;top:716.4px;font-size:26px;line-height:26px;letter-spacing:0.16px;">Edited the descriptive of the demand <span class="rel ul">#DES-1521</span></div><div style="left:57.0px;top:749.9px;font-size:26px;line-height:26px;letter-spacing:0.16px;"><span class="rel ul">Definir recursos disponíveis para acesso em conta</span></div><div style="left:57.0px;top:783.4px;font-size:26px;line-height:26px;letter-spacing:1.24px;"><span class="rel ul">bloqueada</span></div><div style="left:56px;top:818px;width:652px;height:149px;border:2px solid #dedede;border-radius:4px"></div><div style="left:75.0px;top:837.9px;font-size:26px;line-height:26px;letter-spacing:0.78px;">Usuário gestor de conta avançada/corporativa</div><div style="left:75.0px;top:875.9px;font-size:26px;line-height:26px;letter-spacing:-0.07px;">deve possuir acesso a recursos específicos da</div><div style="left:75.0px;top:913.9px;font-size:26px;line-height:26px;letter-spacing:0.43px;">configura... <span class="rel ul" style="color:#4a4a4a">More</span></div><svg style="left:57px;top:995px" width="35" height="31" viewBox="0 0 35 31" fill="none" stroke="#222" stroke-width="2.7" stroke-linejoin="round"><path d="M17.5,29.5 L4,16 Q0,11.5 2.5,6.5 Q5,1.5 10.5,1.5 Q14.5,1.5 17.5,5 Q20.5,1.5 24.5,1.5 Q30,1.5 32.5,6.5 Q35,11.5 31,16 Z"/></svg><div style="left:117.0px;top:996.9px;font-size:26px;line-height:26px;letter-spacing:-0.4px;">0 Likes</div><div style="right:53px;top:996.9px;font-size:26px;line-height:26px;letter-spacing:0.67px;">0 Comments</div><div style="left:56px;top:1071px;width:652px;height:88px;border:2px solid #c4c4c4;border-radius:7px;background:#fff"></div><div style="left:81.0px;top:1099.8px;font-size:27px;line-height:27px;color:#b4b4b4;letter-spacing:0.17px;">Add a comment</div><svg style="left:628px;top:1096px" width="42" height="38" viewBox="0 0 42 38" fill="none" stroke="#8a8a8a" stroke-width="3" stroke-linejoin="round" stroke-linecap="round"><path d="M2,2 L40,19 L2,36 L8,19 Z"/><path d="M8,19 H40"/></svg>
<div class="card" style="left:32px;top:1216px;width:700px;height:596px;border-radius:18px"></div><div class="av" style="left:57px;top:1240px;width:80px;height:80px;background:linear-gradient(100deg,#f7f1ec 0,#f1e4da 50%,#e9cfc0 100%)"><div style="left:30px;top:4px;width:42px;height:20px;border-radius:50% 50% 30% 30%;background:#5a5452"></div><div style="left:28px;top:10px;width:42px;height:54px;border-radius:46% 46% 44% 44%;background:#8a5a46"></div><div style="left:36px;top:50px;width:22px;height:10px;border-radius:40%;background:#b8aaa4;opacity:.7"></div><div style="left:-8px;top:52px;width:60px;height:40px;border-radius:40% 60% 0 0;background:#1d1d24;transform:rotate(-12deg)"></div></div><div class="wk" style="left:108px;top:1290px;width:37px;height:37px;border:2px solid #fff;font-size:9px;line-height:33px;letter-spacing:-0.4px">wikimee</div><div style="left:168.0px;top:1247.9px;font-size:26px;line-height:26px;letter-spacing:-0.05px;">Tiago Souza</div><div style="left:168.0px;top:1289.3px;font-size:22px;line-height:22px;letter-spacing:0.54px;">06 Jan</div><div style="left:57.0px;top:1344.4px;font-size:26px;line-height:26px;letter-spacing:0.16px;">Edited the descriptive of the demand <span class="rel ul">#DES-1521</span></div><div style="left:57.0px;top:1377.9px;font-size:26px;line-height:26px;letter-spacing:0.16px;"><span class="rel ul">Definir recursos disponíveis para acesso em conta</span></div><div style="left:57.0px;top:1411.4px;font-size:26px;line-height:26px;letter-spacing:1.24px;"><span class="rel ul">bloqueada</span></div><div style="left:56px;top:1446px;width:652px;height:149px;border:2px solid #dedede;border-radius:4px"></div><div style="left:75.0px;top:1465.9px;font-size:26px;line-height:26px;letter-spacing:0.78px;">Usuário gestor de conta avançada/corporativa</div><div style="left:75.0px;top:1503.9px;font-size:26px;line-height:26px;letter-spacing:-0.07px;">deve possuir acesso a recursos específicos da</div><div style="left:75.0px;top:1541.9px;font-size:26px;line-height:26px;letter-spacing:0.43px;">configura... <span class="rel ul" style="color:#4a4a4a">More</span></div><svg style="left:57px;top:1623px" width="35" height="31" viewBox="0 0 35 31" fill="none" stroke="#222" stroke-width="2.7" stroke-linejoin="round"><path d="M17.5,29.5 L4,16 Q0,11.5 2.5,6.5 Q5,1.5 10.5,1.5 Q14.5,1.5 17.5,5 Q20.5,1.5 24.5,1.5 Q30,1.5 32.5,6.5 Q35,11.5 31,16 Z"/></svg><div style="left:117.0px;top:1624.9px;font-size:26px;line-height:26px;letter-spacing:-0.4px;">0 Likes</div><div style="right:53px;top:1624.9px;font-size:26px;line-height:26px;letter-spacing:0.67px;">0 Comments</div><div style="left:56px;top:1699px;width:652px;height:88px;border:2px solid #c4c4c4;border-radius:7px;background:#fff"></div><div style="left:81.0px;top:1727.8px;font-size:27px;line-height:27px;color:#b4b4b4;letter-spacing:0.17px;">Add a comment</div><svg style="left:628px;top:1724px" width="42" height="38" viewBox="0 0 42 38" fill="none" stroke="#8a8a8a" stroke-width="3" stroke-linejoin="round" stroke-linecap="round"><path d="M2,2 L40,19 L2,36 L8,19 Z"/><path d="M8,19 H40"/></svg>
</div>
</body></html>
